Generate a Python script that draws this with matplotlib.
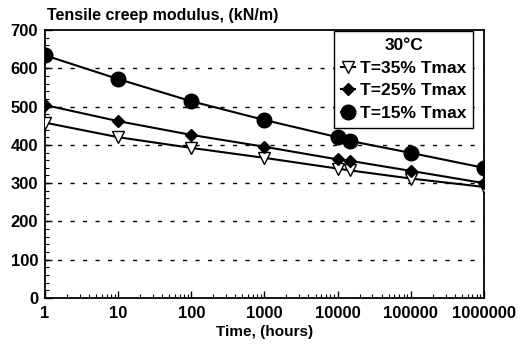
import matplotlib
matplotlib.use("Agg")
import matplotlib.pyplot as plt
from matplotlib.ticker import FixedLocator, LogLocator, NullFormatter, MultipleLocator

plt.rcParams['font.family'] = ['Liberation Sans', 'DejaVu Sans']
plt.rcParams['font.weight'] = 'bold'

time_h = [1, 10, 100, 1000, 10000, 15000, 100000, 1000000]
t35 = [458, 420, 392, 366, 338, 333, 312, 290]
t25 = [504, 462, 426, 395, 362, 358, 332, 300]
t15 = [634, 572, 514, 465, 420, 410, 379, 340]
xticks = [1, 10, 100, 1000, 10000, 100000, 1000000]
xtick_labels = ["1", "10", "100", "1000", "10000", "100000", "1000000"]
yticks = [0, 100, 200, 300, 400, 500, 600, 700]

fig = plt.figure(figsize=(5.18, 3.5), dpi=100)
ax = fig.add_axes([0.087, 0.149, 0.847, 0.765])

ax.plot(time_h, t35, color='black', lw=1.5, marker='v', ms=9, mfc='white',
        mec='black', mew=1.0, label='T=35% Tmax', zorder=3)
ax.plot(time_h, t25, color='black', lw=1.5, marker='D', ms=6.5, mfc='black',
        mec='black', label='T=25% Tmax', zorder=4)
ax.plot(time_h, t15, color='black', lw=1.5, marker='o', ms=10.5, mfc='black',
        mec='black', label='T=15% Tmax', zorder=5)

ax.set_xscale('log')
ax.set_xlim(1, 1000000)
ax.set_ylim(0, 700)
ax.xaxis.set_major_locator(FixedLocator(xticks))
ax.set_xticklabels(xtick_labels)
ax.xaxis.set_minor_locator(LogLocator(base=10, subs=range(2, 10), numticks=20))
ax.xaxis.set_minor_formatter(NullFormatter())
ax.set_yticks(yticks)
ax.yaxis.set_minor_locator(MultipleLocator(20))
ax.tick_params(axis='both', which='both', direction='in', labelsize=12)
ax.tick_params(axis='both', which='major', length=5, width=1)
ax.tick_params(axis='both', which='minor', length=3, width=0.8)
ax.tick_params(axis='x', pad=6)
ax.tick_params(axis='y', pad=5)

for y in [100, 200, 300, 400, 500, 600]:
    ax.axhline(y, color='black', lw=1.0, ls=(0, (3, 6)), zorder=1)

for s in ax.spines.values():
    s.set_linewidth(1.3)

ax.set_xlabel('Time, (hours)', fontsize=11, fontweight='bold', labelpad=3)
fig.text(0.09, 0.955, 'Tensile creep modulus, (kN/m)', fontsize=11.5,
         fontweight='bold', ha='left', va='center')

leg = ax.legend(loc='upper right', bbox_to_anchor=(0.975, 0.995), title='30°C',
                frameon=True, fancybox=False, edgecolor='black', fontsize=12.5,
                title_fontsize=12.5, handlelength=0.8, handletextpad=0.25,
                borderpad=0.4, labelspacing=0.42, borderaxespad=0.0,
                framealpha=1.0)
leg.get_frame().set_linewidth(1.0)
leg.get_title().set_fontweight('bold')
for t in leg.get_texts():
    t.set_fontweight('bold')

fig.savefig('out.png', dpi=100)
